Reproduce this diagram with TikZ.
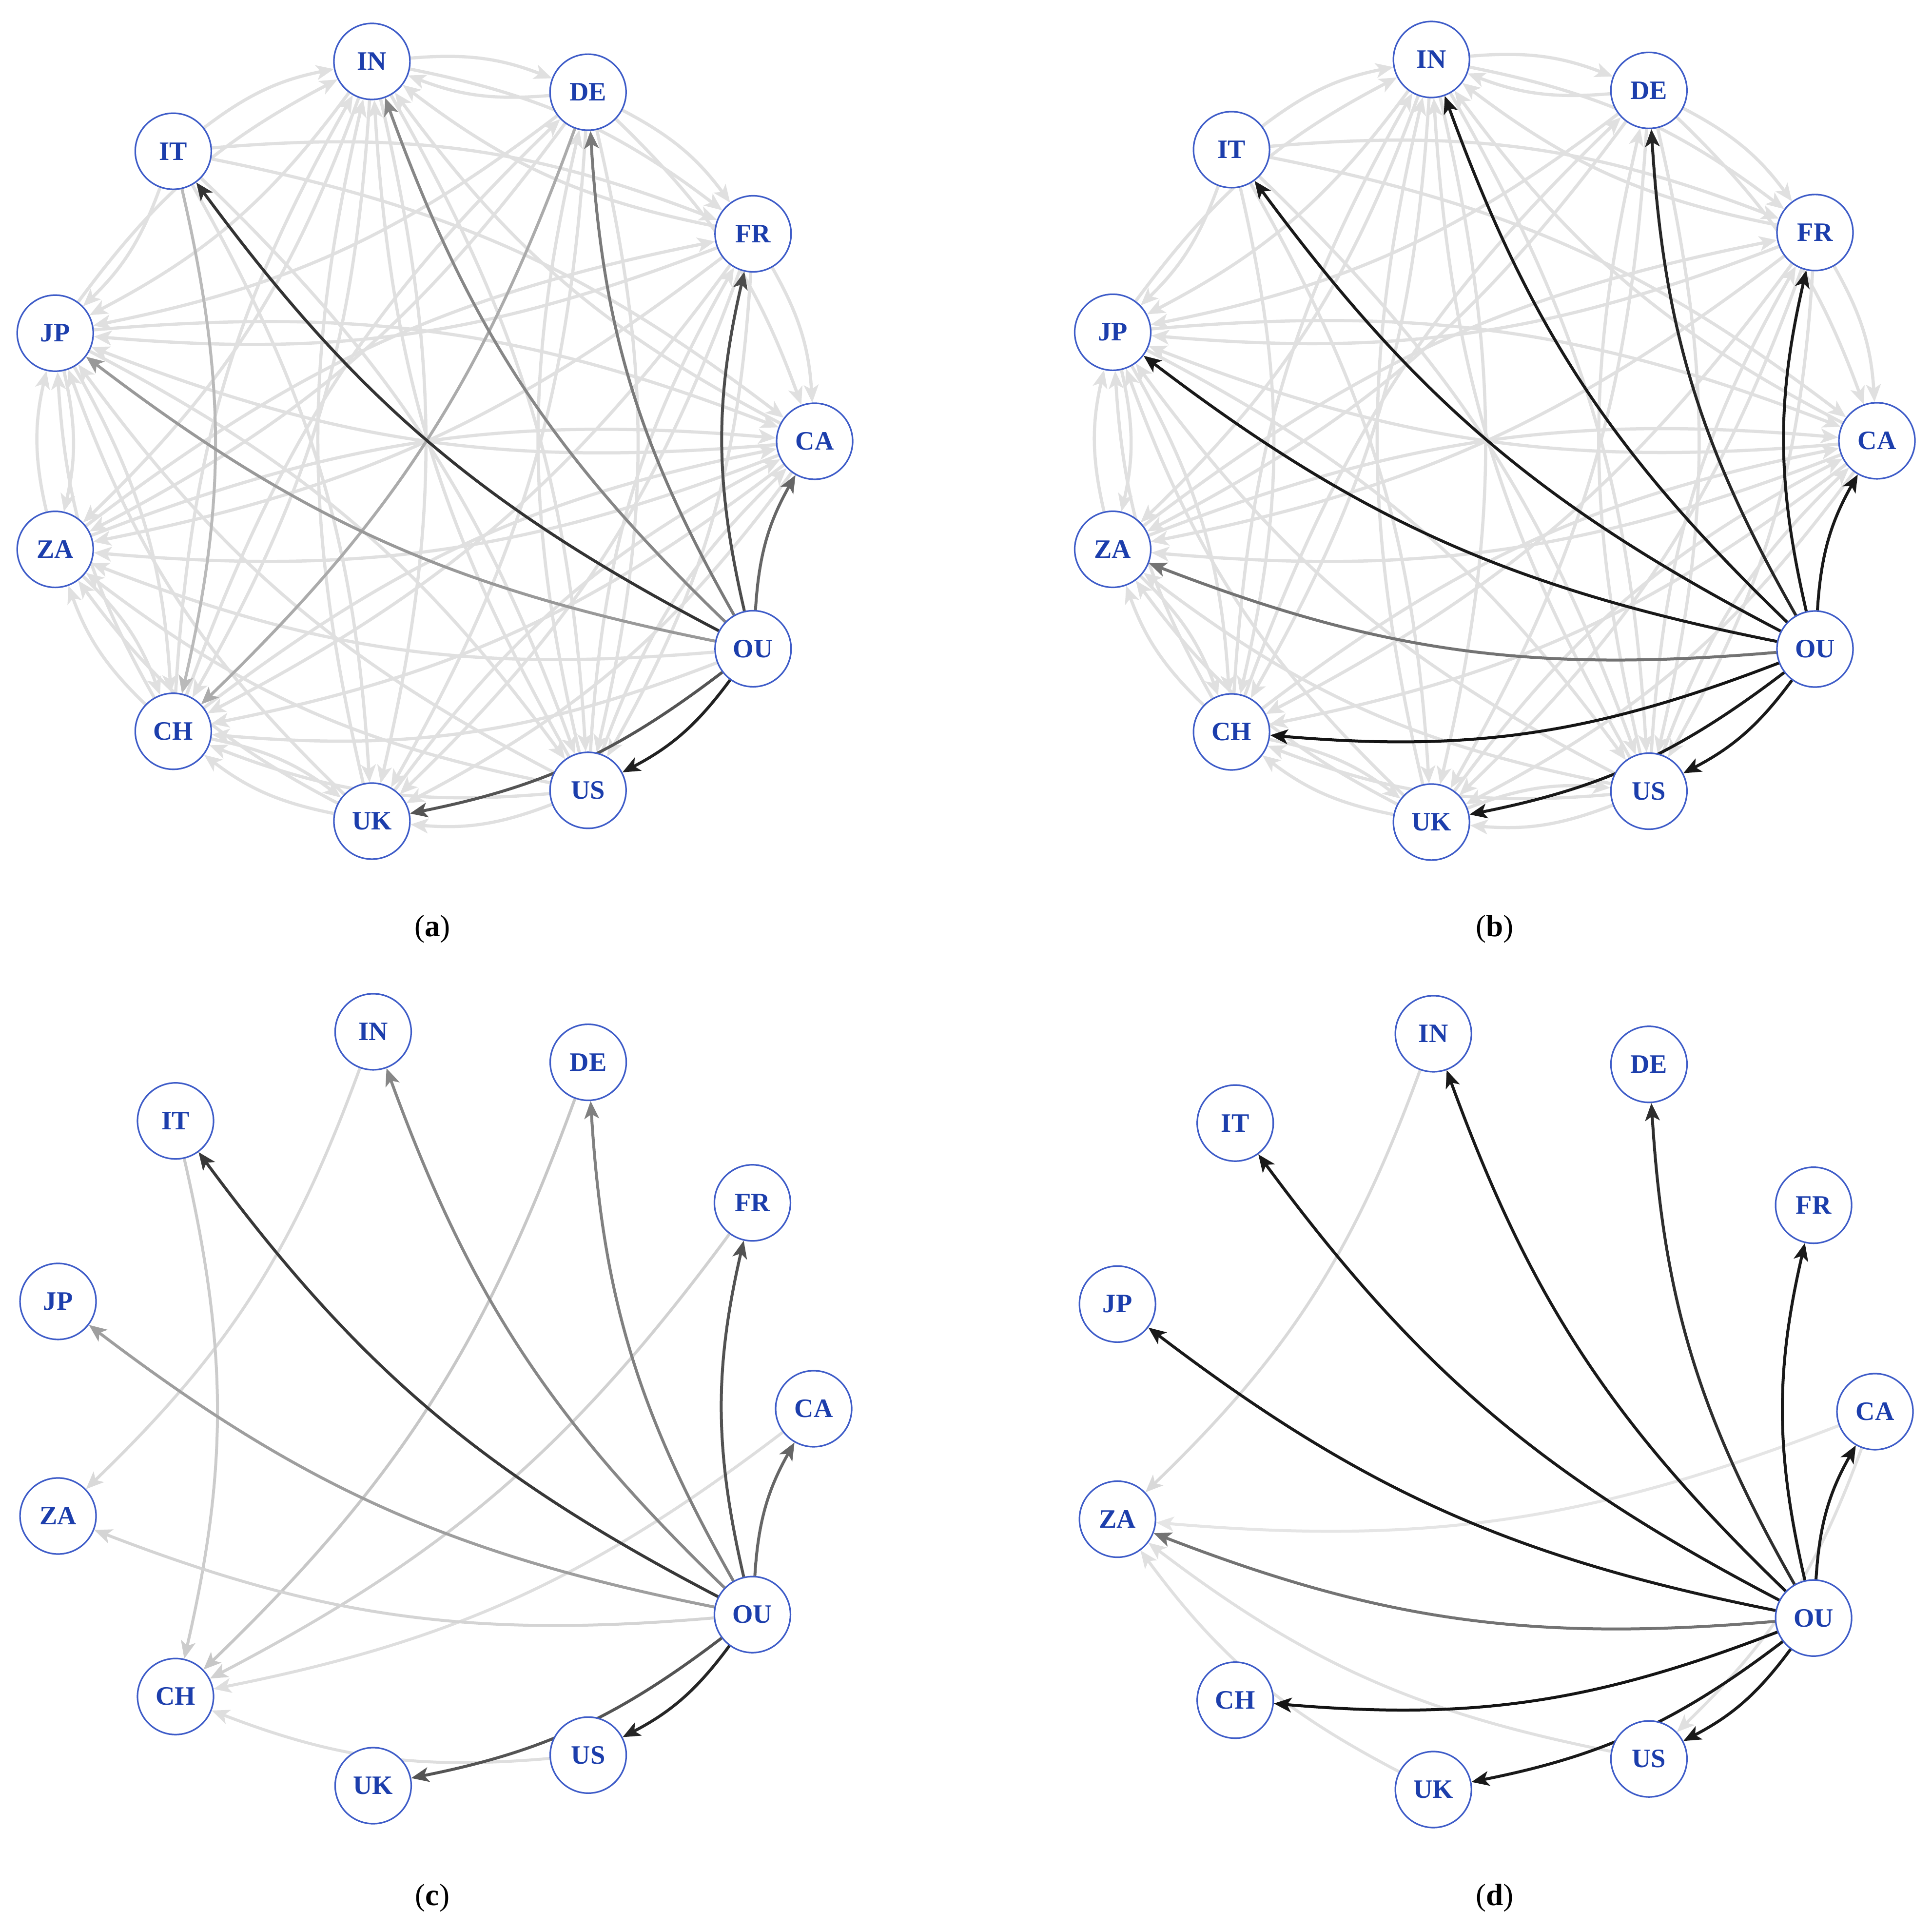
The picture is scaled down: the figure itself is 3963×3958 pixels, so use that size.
\documentclass[tikz,border=0pt]{standalone}
\usepackage{fontspec}
\setmainfont{Liberation Serif}
\usetikzlibrary{arrows.meta,backgrounds}
\definecolor{nodeblue}{RGB}{62,92,200}
\definecolor{textblue}{RGB}{28,62,172}
\tikzset{
  cnode/.style={circle, draw=nodeblue, line width=0.32mm, fill=white, minimum size=15.6mm,
    inner sep=0pt, text=textblue, font=\fontsize{15.5}{18}\selectfont\bfseries},
  edge/.style={line width=0.6mm, -{Stealth[length=3.6mm,width=3mm,inset=0.9mm]}, bend left=13},
  lightedge/.style={edge, draw=black!12, line width=0.65mm},
  caplabel/.style={font=\fontsize{18}{22}\selectfont}
}
% #1 prefix, #2 cx, #3 cy (pixel, from top), #4 Rx, #5 Ry
\newcommand\placepanel[5]{%
  \foreach \n/\k in {CA/0,FR/1,DE/2,IN/3,IT/4,JP/5,ZA/6,CH/7,UK/8,US/9,OU/10}{%
    \node[cnode] (#1-\n) at ({#2+#4*cos(\k*360/11)},{3958-#3+#5*sin(\k*360/11)}) {\n};
  }%
}
\newcommand\lightset[2]{%
  \foreach \s/\t in {#2}{\draw[lightedge] (#1-\s) to (#1-\t);}%
}
\newcommand\ouset[2]{%
  \foreach \t/\c in {#2}{\draw[edge, draw=black!\c] (#1-OU) to (#1-\t);}%
}
\begin{document}
\begin{tikzpicture}[x=0.1mm,y=0.1mm]
\path[use as bounding box] (0,0) rectangle (3963,3958);
\placepanel{a}{876}{905}{795}{787}
\placepanel{b}{3050}{904}{800}{790}
\placepanel{c}{878}{2889}{791}{781}
\placepanel{d}{3053}{2895}{793}{783}
\begin{pgfonlayer}{background}
  \fill[white] (0,0) rectangle (3963,3958);
  % ---------- panel (a)
  \lightset{a}{IT/IN, IT/FR, IT/CA, IT/JP, IT/UK, IT/US, IN/DE, IN/FR, IN/JP, IN/ZA, IN/CH, IN/UK, IN/US,
    DE/IN, DE/FR, DE/CA, DE/JP, DE/ZA, DE/UK, DE/US, FR/CA, FR/JP, FR/ZA, FR/CH, FR/UK, FR/US, FR/IN,
    CA/JP, CA/ZA, CA/CH, CA/UK, CA/IN, JP/ZA, JP/CH, JP/CA, JP/US, JP/IN, ZA/JP, ZA/CH, ZA/CA, ZA/FR,
    CH/ZA, CH/IN, CH/DE, CH/CA, CH/UK, CH/JP, UK/CH, UK/IN, UK/CA, UK/ZA, UK/JP,
    US/UK, US/CH, US/ZA, US/JP, US/IN, US/DE, US/FR, US/CA, OU/ZA, OU/CH}
  \draw[edge, draw=black!27] (a-IT) to (a-CH);
  \draw[edge, draw=black!33] (a-DE) to (a-CH);
  \ouset{a}{JP/40, IN/47, DE/52, CA/60, UK/67, FR/70, IT/80, US/87}
  % ---------- panel (b)
  \lightset{b}{IT/IN, IT/FR, IT/CA, IT/JP, IT/UK, IT/US, IT/CH, IN/DE, IN/FR, IN/JP, IN/ZA, IN/CH, IN/UK, IN/US,
    DE/IN, DE/FR, DE/CA, DE/JP, DE/ZA, DE/UK, DE/US, FR/CA, FR/JP, FR/ZA, FR/CH, FR/UK, FR/US, FR/IN,
    CA/JP, CA/ZA, CA/CH, CA/UK, CA/IN, JP/ZA, JP/CH, JP/CA, JP/US, JP/IN, ZA/JP, ZA/CH, ZA/CA, ZA/FR,
    CH/ZA, CH/IN, CH/DE, CH/CA, CH/UK, CH/JP, UK/CH, UK/IN, UK/CA, UK/ZA, UK/JP, UK/US,
    US/UK, US/CH, US/ZA, US/JP, US/IN, US/DE, US/FR, US/CA}
  \ouset{b}{ZA/55, DE/85, IT/90, IN/90, FR/90, CA/90, JP/90, CH/92, UK/90, US/90}
  % ---------- panel (c)
  \draw[edge, draw=black!15] (c-IN) to (c-ZA);
  \draw[edge, draw=black!20] (c-IT) to (c-CH);
  \draw[edge, draw=black!22] (c-DE) to (c-CH);
  \draw[edge, draw=black!18] (c-FR) to (c-CH);
  \draw[edge, draw=black!13] (c-CA) to (c-CH);
  \draw[edge, draw=black!13] (c-US) to (c-CH);
  \ouset{c}{ZA/17, JP/38, IN/47, DE/50, CA/60, UK/67, FR/68, IT/78, US/85}
  % ---------- panel (d)
  \draw[edge, draw=black!15] (d-IN) to (d-ZA);
  \draw[edge, draw=black!10] (d-CA) to (d-ZA);
  \draw[edge, draw=black!12] (d-US) to (d-ZA);
  \draw[edge, draw=black!12] (d-UK) to (d-ZA);
  \draw[edge, draw=black!12] (d-CA) to (d-US);
  \ouset{d}{ZA/55, DE/82, IT/90, IN/90, FR/90, CA/90, JP/90, CH/92, UK/90, US/90}
\end{pgfonlayer}
\node[caplabel] (la) at (887,{3958-1905}) {(\textbf{a})};
\node[caplabel] (lb) at (3066,{3958-1905}) {(\textbf{b})};
\node[caplabel] (lc) at (887,{3958-3892}) {(\textbf{c})};
\node[caplabel] (ld) at (3066,{3958-3892}) {(\textbf{d})};
\end{tikzpicture}
\end{document}
